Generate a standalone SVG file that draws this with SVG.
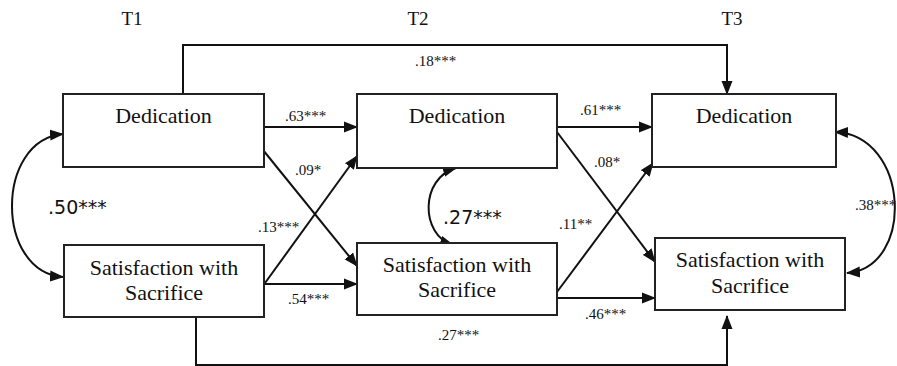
<svg xmlns="http://www.w3.org/2000/svg" width="897" height="366" viewBox="0 0 897 366">
<style>
.box{fill:#fff;stroke:#222;stroke-width:2}
.t{font-family:"Liberation Serif","Times New Roman",serif;fill:#111}
.lbl{font-family:"Liberation Serif","Times New Roman",serif;font-size:15px;fill:#111}
.big{font-family:"DejaVu Sans",sans-serif;font-size:19px;fill:#111}
.c{fill:none;stroke:#111;stroke-width:2}
.a{marker-end:url(#ah)}
.b{marker-start:url(#ah);marker-end:url(#ah)}
</style>
<defs>
<marker id="ah" markerUnits="userSpaceOnUse" markerWidth="14" markerHeight="12" refX="13" refY="5.5" orient="auto-start-reverse" viewBox="0 0 14 11">
<path d="M0,0 L14,5.5 L0,11 z" fill="#111"/>
</marker>
</defs>
<rect width="897" height="366" fill="#fff"/>
<g id="time-labels" class="t" font-size="19" text-anchor="middle">
<text x="132" y="25">T1</text>
<text x="418" y="25">T2</text>
<text x="732" y="25">T3</text>
</g>
<g id="connectors">
<path class="c a" d="M183,94 V45 H727 V94"/>
<path class="c a" d="M196,317 V365 H727 V316"/>
<path class="c a" d="M265,127 H357"/>
<path class="c a" d="M263,150 L357,266"/>
<path class="c a" d="M265,283 L357,156"/>
<path class="c a" d="M265,284 H357"/>
<path class="c a" d="M557,127 H652"/>
<path class="c a" d="M557,132 L655,262"/>
<path class="c a" d="M557,292 L653,163"/>
<path class="c a" d="M557,298 H655"/>
<path class="c b" d="M63,134 C-5,140 -5,272 63,277"/>
<path class="c b" d="M456,168 C420,178 420,235 453,245"/>
<path class="c b" d="M835,132 C910,135 915,268 847,273"/>
</g>
<g id="t1-dedication">
<rect class="box" x="63" y="94" width="201" height="73"/>
<text class="t" font-size="22" x="163.5" y="123" text-anchor="middle">Dedication</text>
</g>
<g id="t2-dedication">
<rect class="box" x="357" y="94" width="200" height="74"/>
<text class="t" font-size="22" x="457" y="123" text-anchor="middle">Dedication</text>
</g>
<g id="t3-dedication">
<rect class="box" x="652" y="94" width="184" height="73"/>
<text class="t" font-size="22" x="744" y="123" text-anchor="middle">Dedication</text>
</g>
<g id="t1-satisfaction">
<rect class="box" x="64" y="245" width="200" height="72"/>
<text class="t" font-size="22" x="164" y="275" text-anchor="middle">Satisfaction with</text>
<text class="t" font-size="22" x="164" y="300" text-anchor="middle">Sacrifice</text>
</g>
<g id="t2-satisfaction">
<rect class="box" x="357" y="243" width="200" height="72"/>
<text class="t" font-size="22" x="457" y="272" text-anchor="middle">Satisfaction with</text>
<text class="t" font-size="22" x="457" y="297" text-anchor="middle">Sacrifice</text>
</g>
<g id="t3-satisfaction">
<rect class="box" x="655" y="238" width="190" height="72"/>
<text class="t" font-size="22" x="750" y="267" text-anchor="middle">Satisfaction with</text>
<text class="t" font-size="22" x="750" y="293" text-anchor="middle">Sacrifice</text>
</g>
<g id="edge-labels">
<text class="lbl" x="415" y="66">.18***</text>
<text class="lbl" x="285" y="121">.63***</text>
<text class="lbl" x="295" y="175">.09*</text>
<text class="lbl" x="258" y="232">.13***</text>
<text class="lbl" x="288" y="304">.54***</text>
<text class="lbl" x="438" y="340">.27***</text>
<text class="lbl" x="580" y="115">.61***</text>
<text class="lbl" x="594" y="167">.08*</text>
<text class="lbl" x="559" y="229">.11**</text>
<text class="lbl" x="585" y="319">.46***</text>
<text class="lbl" x="855" y="210">.38***</text>
<text class="big" x="48" y="214">.50***</text>
<text class="big" x="443" y="224">.27***</text>
</g>
</svg>
